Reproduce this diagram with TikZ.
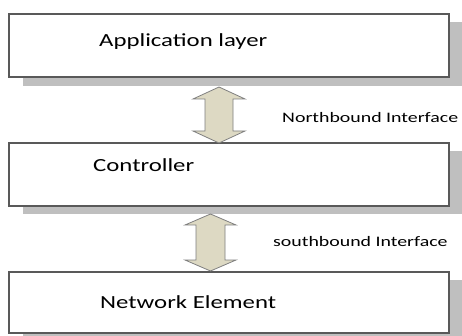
\documentclass[tikz,border=0pt]{standalone}
\usepackage{fontspec}
\newfontfamily\labelfont[FakeStretch=1.34]{Carlito}
\newfontfamily\ifacefont[FakeStretch=1.37]{Carlito}
\definecolor{boxline}{HTML}{595959}
\definecolor{shadowgray}{HTML}{BFBFBF}
\definecolor{arrowfill}{HTML}{DDD9C3}
\definecolor{arrowline}{HTML}{7F7F7F}
\tikzset{
  layerbox/.style={draw=boxline, line width=1.3pt, fill=white},
  layershadow/.style={fill=shadowgray, draw=none},
  layertext/.style={anchor=west, inner sep=0pt, font=\labelfont\fontsize{18.5}{20}\selectfont, text=black},
  ifacetext/.style={anchor=west, inner sep=0pt, font=\ifacefont\fontsize{14.5}{16}\selectfont, text=black},
  updown/.style={fill=arrowfill, draw=arrowline, line width=0.8pt, line join=miter}
}
\begin{document}
\begin{tikzpicture}[x=1pt, y=-1pt]
\useasboundingbox (0,0) rectangle (462,336);
\fill[white] (0,0) rectangle (462,336);

% drop shadows of the three layers
\fill[layershadow] (23,22) rectangle (463,86);
\fill[layershadow] (23,151) rectangle (463,214);
\fill[layershadow] (23,280) rectangle (463,342);

% layer boxes
\draw[layerbox] (9,14) rectangle (449,77);
\draw[layerbox] (9,143) rectangle (449,206);
\draw[layerbox] (9,272) rectangle (449,333);

% layer names
\node[layertext] (appl) at (99,42) {Application layer};
\node[layertext] (ctll) at (93,165) {Controller};
\node[layertext] (nel) at (100,302) {Network Element};

% northbound double arrow
\draw[updown] (219,87) -- (245,99) -- (233,99) -- (233,131) -- (245,131)
  -- (219,143) -- (193,131) -- (205,131) -- (205,99) -- (193,99) -- cycle;
% southbound double arrow
\draw[updown] (210.5,214) -- (236,225) -- (225,225) -- (225,260) -- (236,260)
  -- (210.5,271) -- (185,260) -- (196,260) -- (196,225) -- (185,225) -- cycle;

% interface labels
\node[ifacetext] (nb) at (282,118) {Northbound Interface};
\node[ifacetext] (sb) at (273,242) {southbound Interface};
\end{tikzpicture}
\end{document}
